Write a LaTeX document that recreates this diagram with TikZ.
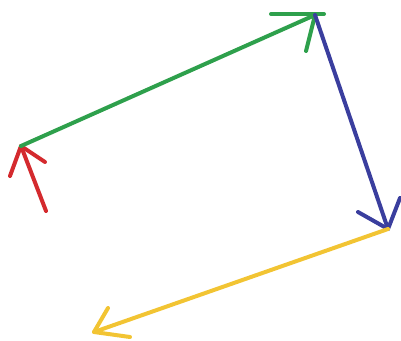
\documentclass[tikz,border=0pt]{standalone}
\definecolor{cred}{HTML}{D42A2E}
\definecolor{cgreen}{HTML}{2EA04C}
\definecolor{cblue}{HTML}{3A3E9E}
\definecolor{cyellow}{HTML}{F2C433}
\tikzset{stroke/.style={line width=4pt,line cap=round,line join=round}}
\begin{document}
\begin{tikzpicture}[x=1pt,y=-1pt]
\useasboundingbox (0,0) rectangle (401,340);
\coordinate (r0) at (46,211);
\coordinate (p1) at (21,146);
\coordinate (p2) at (315,15);
\coordinate (p3) at (388,229);
\coordinate (p4) at (94,332);
% red
\draw[stroke,cred] (r0) -- (p1);
\draw[stroke,cred] (10,176) -- (p1) -- (45,162);
% green
\draw[stroke,cgreen] (p1) -- (p2);
\draw[stroke,cgreen] (271,14) -- (324,14);
\draw[stroke,cgreen] (p2) -- (306,51);
% blue
\draw[stroke,cblue] (p2) -- (p3);
\draw[stroke,cblue] (358,212) -- (p3) -- (400,198);
% yellow
\draw[stroke,cyellow] (p3) -- (p4);
\draw[stroke,cyellow] (108,308) -- (p4) -- (130,337);
\end{tikzpicture}
\end{document}
